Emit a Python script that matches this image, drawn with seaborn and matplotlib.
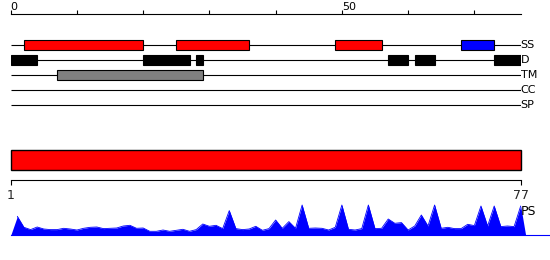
import matplotlib
matplotlib.use("Agg")
import matplotlib.pyplot as plt
import seaborn as sns
import pandas as pd

# ---------------- data ----------------
seq_len = 77
tracks = ["SS", "D", "TM", "CC", "SP"]

ss_start = [2, 25, 49, 68]
ss_end = [20, 36, 56, 73]
ss_color = ["#ff0000", "#ff0000", "#ff0000", "#0000ff"]

d_start = [0, 20, 28, 57, 61, 73]
d_end = [4, 27, 29, 60, 64, 77]

tm_start = [7]
tm_end = [29]

ruler_ticks = [0, 10, 20, 30, 40, 50, 60, 70]
ruler_labels = {0: "0", 50: "50"}
seq_ticks = [1, 77]

ps_positions = list(range(1, 78))
ps_scores = [19, 8, 5.7, 8.3, 6.3, 5.7, 5.7, 7, 6.3, 5.3,
             7, 8, 8.3, 6.7, 7, 7.3, 9.3, 10, 7, 7.3,
             4, 4, 5.3, 4, 5, 6, 4, 5.7, 11.3, 9,
             10, 6.7, 24.7, 6.7, 5.7, 6.3, 9, 5, 6.7, 15.3,
             7, 13.7, 7, 30.3, 7, 7.3, 7, 5.3, 8, 30.3,
             6, 5.3, 6.7, 30.3, 6.7, 7, 16.3, 12, 12.7, 5.3,
             9.3, 20.3, 9.3, 30.3, 7, 8, 6.7, 6.7, 11, 9.7,
             29.3, 9.3, 29.3, 8.7, 9.3, 8.7, 29.3]

# ---------------- figure ----------------
sns.set_style("white")
plt.rcParams["font.family"] = ["DejaVu Sans"]

W, H = 550, 260
fig = plt.figure(figsize=(W / 100, H / 100), dpi=100)
fig.patch.set_facecolor("white")


def px_axes(x0, y0, x1, y1):
    ax = fig.add_axes([x0 / W, 1 - y1 / H, (x1 - x0) / W, (y1 - y0) / H])
    ax.patch.set_visible(False)
    return ax


X0, X1 = 10.7, 520.7
LW = 0.8

# ruler on top
ax_r = px_axes(X0, 2, X1, 14)
ax_r.set_xlim(0, seq_len)
ax_r.set_ylim(0, 1)
for s in ["top", "left", "right"]:
    ax_r.spines[s].set_visible(False)
ax_r.spines["bottom"].set_color("black")
ax_r.spines["bottom"].set_linewidth(LW)
ax_r.set_xticks(ruler_ticks)
ax_r.set_yticks([])
ax_r.tick_params(axis="x", direction="in", length=3, width=LW, color="black",
                 labelbottom=False, bottom=True)
for t, lab in ruler_labels.items():
    ax_r.text(t, 0.3, lab, ha="left", va="baseline", fontsize=8, color="black")

# feature tracks
ax_t = px_axes(X0, 30, X1, 120.5)
ax_t.set_xlim(0, seq_len)
ax_t.set_ylim(5, -1)
ax_t.axis("off")
rows = {name: i for i, name in enumerate(tracks)}
ax_t.hlines(list(rows.values()), 0, seq_len, color="black", lw=LW, zorder=1)
bh = 0.66
ax_t.barh([rows["SS"]] * len(ss_start),
          [e - s for s, e in zip(ss_start, ss_end)], left=ss_start, height=bh,
          color=ss_color, edgecolor="black", linewidth=LW, zorder=2)
ax_t.barh([rows["D"]] * len(d_start),
          [e - s for s, e in zip(d_start, d_end)], left=d_start, height=bh,
          color="black", edgecolor="black", linewidth=LW, zorder=2)
ax_t.barh([rows["TM"]] * len(tm_start),
          [e - s for s, e in zip(tm_start, tm_end)], left=tm_start, height=bh,
          color="#808080", edgecolor="black", linewidth=LW, zorder=2)
for name, r in rows.items():
    ax_t.text(seq_len, r, name, ha="left", va="center", fontsize=8, color="black")

# full-length sequence bar
ax_b = px_axes(X0, 150, X1, 170.3)
ax_b.set_xlim(seq_ticks[0], seq_ticks[-1])
ax_b.set_ylim(-0.5, 0.5)
ax_b.axis("off")
ax_b.barh([0], [seq_ticks[-1] - seq_ticks[0]], left=seq_ticks[0], height=1,
          color="#ff0000", edgecolor="black", linewidth=1.0, clip_on=False)

# sequence axis
ax_s = px_axes(X0, 170.3, X1, 180.3)
ax_s.set_xlim(seq_ticks[0], seq_ticks[-1])
for s in ["top", "left", "right"]:
    ax_s.spines[s].set_visible(False)
ax_s.spines["bottom"].set_color("black")
ax_s.spines["bottom"].set_linewidth(LW)
ax_s.set_xticks(seq_ticks)
ax_s.set_xticklabels([str(t) for t in seq_ticks], fontsize=9)
ax_s.set_yticks([])
ax_s.tick_params(axis="x", direction="out", length=3.5, width=LW, color="black",
                 pad=3, bottom=True)

# PS profile
ax_p = px_axes(X0, 235.3 - 31, W, 235.3)
ax_p.set_xlim(0, seq_len * (W - X0) / (X1 - X0))
ax_p.set_ylim(0, 31)
for s in ["top", "left", "right"]:
    ax_p.spines[s].set_visible(False)
ax_p.spines["bottom"].set_color("#0000ff")
ax_p.spines["bottom"].set_linewidth(LW)
ax_p.set_xticks([])
ax_p.set_yticks([])
df = pd.DataFrame({"pos": ps_positions, "score": ps_scores})
fx = [0] + ps_positions + [ps_positions[-1] + 0.75]
fy = [0] + ps_scores + [0]
ax_p.fill_between(fx, fy, 0, color="#0000ff", linewidth=0)
sns.lineplot(data=df, x="pos", y="score", ax=ax_p, color="#0000ff", linewidth=0.6)
ax_p.set_xlabel("")
ax_p.set_ylabel("")
ax_p.text(seq_len, 23.8, "PS", ha="left", va="center", fontsize=9, color="black")

fig.savefig("out.png", dpi=100, facecolor="white")
